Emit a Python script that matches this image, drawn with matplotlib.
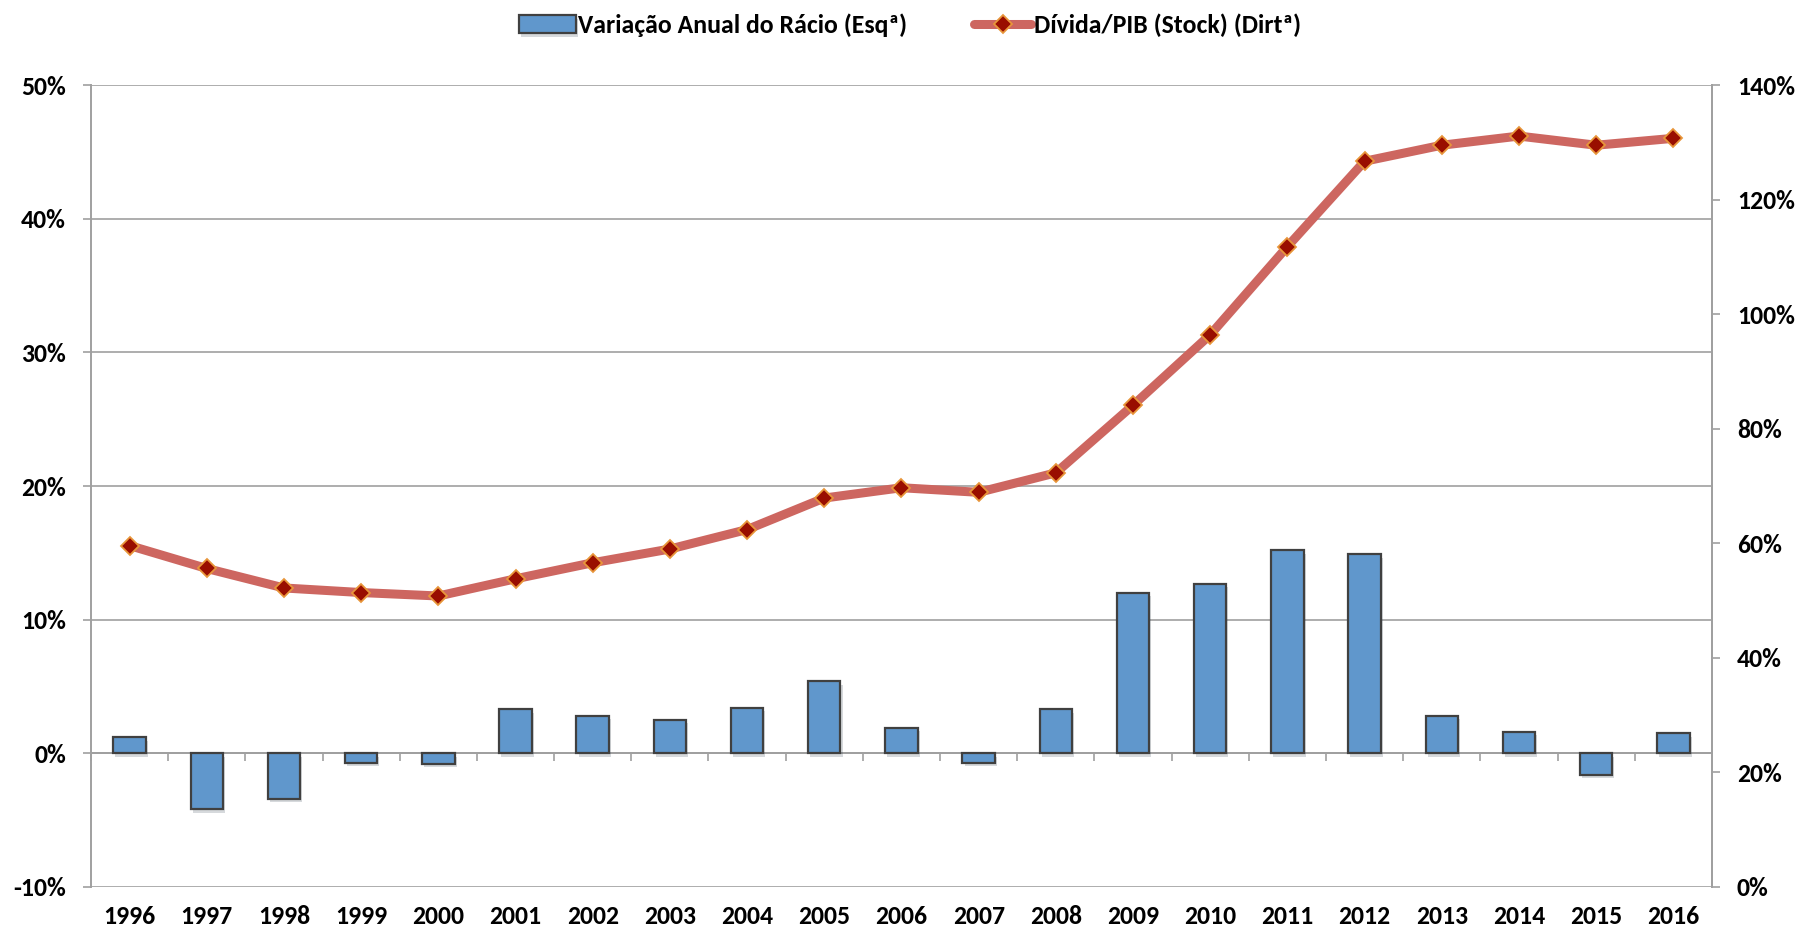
import numpy as np
import matplotlib
matplotlib.use("Agg")
import matplotlib.pyplot as plt
import matplotlib.patheffects as pe
from matplotlib.ticker import FuncFormatter

# data
years = ["1996", "1997", "1998", "1999", "2000", "2001", "2002", "2003", "2004", "2005", "2006",
         "2007", "2008", "2009", "2010", "2011", "2012", "2013", "2014", "2015", "2016"]
annual_change = [1.2, -4.2, -3.4, -0.7, -0.8, 3.3, 2.8, 2.5, 3.4, 5.4, 1.9,
                 -0.7, 3.3, 12.0, 12.7, 15.2, 14.9, 2.8, 1.6, -1.6, 1.5]
debt_gdp = [59.6, 55.6, 52.2, 51.4, 50.8, 53.8, 56.6, 59.0, 62.4, 67.9, 69.7,
            68.9, 72.3, 84.1, 96.4, 111.8, 126.7, 129.5, 131.1, 129.5, 130.7]

left_ticks = [-10, 0, 10, 20, 30, 40, 50]
right_ticks = [0, 20, 40, 60, 80, 100, 120, 140]

plt.rcParams["font.family"] = ["Carlito", "DejaVu Sans"]
plt.rcParams["font.weight"] = "bold"

grey = "#a0a0a0"
bar_col = "#6097cc"
line_col = "#cd6660"
fs = 18.5

fig = plt.figure(figsize=(18.02, 9.36), dpi=100)
ax = fig.add_axes([0.0505, 0.0524, 0.8995, 0.8567])
x = np.arange(len(years))

# bars, left axis
bars = ax.bar(x, annual_change, width=0.42, color=bar_col, edgecolor="#404040", linewidth=1.6,
              zorder=3, label="Variação Anual do Rácio (Esqª)")
for b in bars:
    b.set_path_effects([pe.SimplePatchShadow(offset=(1.5, -2.5), alpha=0.18), pe.Normal()])

ax.set_xlim(-0.5, len(years) - 0.5)
ax.set_ylim(-10, 50)
ax.set_yticks(left_ticks)
ax.yaxis.set_major_formatter(FuncFormatter(lambda v, p: f"{v:.0f}%"))
ax.grid(axis="y", color=grey, linewidth=1.2, zorder=0)
ax.set_axisbelow(True)
ax.tick_params(axis="y", length=6, width=1.2, color=grey, pad=12, labelsize=fs)
ax.set_xticks(x)
ax.set_xticklabels(years)
ax.tick_params(axis="x", length=0, pad=13, labelsize=fs)
for s in ["top", "bottom"]:
    ax.spines[s].set_visible(False)
for s in ["left", "right"]:
    ax.spines[s].set_color(grey)
    ax.spines[s].set_linewidth(1.4)

# category axis drawn at zero, ticks between categories
sec = ax.secondary_xaxis(1 / 6)
sec.set_xticks(np.arange(len(years) + 1) - 0.5)
sec.set_xticklabels([])
sec.tick_params(axis="x", direction="out", length=6, width=1.2, color=grey)
sec.spines["bottom"].set_color(grey)
sec.spines["bottom"].set_linewidth(1.4)

# line, right axis
ax2 = ax.twinx()
ax2.plot(x, debt_gdp, color=line_col, linewidth=6.5, marker="D", markersize=9.5,
         markerfacecolor="#990e00", markeredgecolor="#e8963a", markeredgewidth=1.3,
         solid_capstyle="round", zorder=4, label="Dívida/PIB (Stock) (Dirtª)")
ax2.set_ylim(0, 140)
ax2.set_yticks(right_ticks)
ax2.yaxis.set_major_formatter(FuncFormatter(lambda v, p: f"{v:.0f}%"))
ax2.tick_params(axis="y", length=6, width=1.2, color=grey, pad=12, labelsize=fs)
for s in ["top", "bottom", "left"]:
    ax2.spines[s].set_visible(False)
ax2.spines["right"].set_color(grey)
ax2.spines["right"].set_linewidth(1.4)

h1, l1 = ax.get_legend_handles_labels()
h2, l2 = ax2.get_legend_handles_labels()
fig.legend(h1 + h2, l1 + l2, loc="center", bbox_to_anchor=(0.505, 0.973), ncol=2, frameon=False,
           fontsize=fs, handlelength=2.2, handletextpad=0.1, columnspacing=2.6)

fig.savefig("out.png", dpi=100)
